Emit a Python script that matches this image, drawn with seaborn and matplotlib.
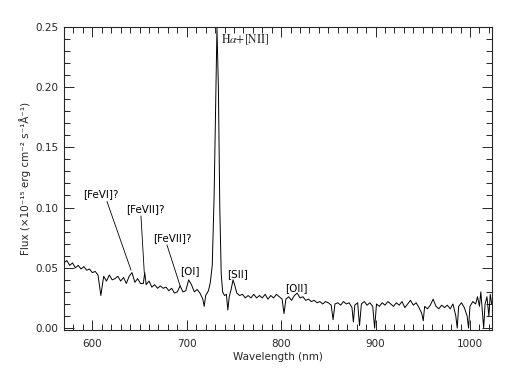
import numpy as np
import pandas as pd
import matplotlib
matplotlib.use("Agg")
import matplotlib.pyplot as plt
from matplotlib.ticker import MultipleLocator
import seaborn as sns

# wavelength (nm) and flux (1e-15 erg cm^-2 s^-1 A^-1)
wavelength = [
    570, 573, 576, 579, 582, 585, 588, 591, 594, 597, 600, 603, 606, 609, 612,
    615, 618, 621, 624, 627, 630, 633, 636, 639, 642, 645, 648, 651, 654, 655.5,
    657, 660, 663, 666, 669, 672, 675, 678, 681, 684, 687, 690, 693, 696, 699,
    702, 705, 708, 711, 714, 717, 718.5, 720, 723, 725, 727, 729, 730.5, 732,
    733.5, 735, 736.5, 738, 740, 742, 743.5, 745, 747, 749, 751, 753, 756, 759,
    762, 765, 768, 771, 774, 777, 780, 783, 786, 789, 792, 795, 798, 801, 803,
    805, 808, 811, 814, 817, 820, 823, 826, 829, 832, 835, 838, 841, 844, 847,
    850, 853, 855, 857, 860, 863, 866, 869, 872, 875, 876.5, 878, 881, 883, 885,
    888, 891, 894, 897, 899, 901, 904, 907, 910, 913, 916, 919, 922, 925, 928,
    931, 934, 937, 940, 943, 946, 949, 950.5, 952, 955, 958, 961, 964, 967, 970,
    973, 976, 979, 982, 985, 986.5, 988, 991, 994, 997, 998.5, 1000, 1003, 1006,
    1008, 1010, 1011.5, 1013, 1014.5, 1016, 1018, 1020, 1021.5, 1023,
]
flux = [
    0.054, 0.056, 0.052, 0.054, 0.050, 0.052, 0.049, 0.051, 0.048, 0.049, 0.046, 0.047, 0.044, 0.027, 0.043,
    0.039, 0.044, 0.040, 0.041, 0.043, 0.039, 0.042, 0.037, 0.043, 0.046, 0.038, 0.041, 0.037, 0.037, 0.046,
    0.036, 0.039, 0.034, 0.036, 0.033, 0.035, 0.033, 0.034, 0.031, 0.033, 0.029, 0.030, 0.035, 0.030, 0.031,
    0.040, 0.036, 0.030, 0.032, 0.029, 0.024, 0.018, 0.027, 0.031, 0.038, 0.052, 0.110, 0.180, 0.249,
    0.200, 0.100, 0.045, 0.030, 0.027, 0.028, 0.015, 0.026, 0.032, 0.040, 0.035, 0.029, 0.027, 0.028,
    0.025, 0.027, 0.025, 0.028, 0.025, 0.027, 0.025, 0.028, 0.024, 0.027, 0.025, 0.028, 0.026, 0.024, 0.012,
    0.024, 0.026, 0.023, 0.027, 0.029, 0.025, 0.026, 0.023, 0.024, 0.022, 0.023, 0.021, 0.022, 0.020, 0.022,
    0.021, 0.019, 0.007, 0.020, 0.021, 0.019, 0.022, 0.020, 0.021, 0.017, 0.005, 0.019, 0.021, 0.002, 0.020,
    0.022, 0.019, 0.021, 0.018, 0.000, 0.020, 0.018, 0.021, 0.019, 0.022, 0.020, 0.018, 0.021, 0.019, 0.022,
    0.017, 0.020, 0.023, 0.019, 0.021, 0.017, 0.012, 0.006, 0.018, 0.016, 0.019, 0.024, 0.018, 0.016, 0.019,
    0.017, 0.019, 0.016, 0.020, 0.010, 0.000, 0.018, 0.021, 0.017, 0.010, 0.000, 0.018, 0.022, 0.020,
    0.026, 0.018, 0.030, 0.015, 0.000, 0.020, 0.026, 0.010, 0.028, 0.020,
]

# line labels: text, text position, and where the pointer line runs (None = no pointer)
line_names = ["[FeVI]?", "[FeVII]?", "[FeVII]?", "[OI]", "[SII]", "[OII]"]
label_x = [609, 656, 685, 703.5, 754, 816]
label_y = [0.111, 0.099, 0.075, 0.047, 0.045, 0.033]
pointer_from = [(615.5, 0.105), (651.5, 0.093), (679, 0.069), None, None, None]
pointer_to = [(641, 0.048), (655, 0.046), (693, 0.035), None, None, None]

df = pd.DataFrame({"wavelength": wavelength, "flux": flux})

sns.set_style("ticks")
plt.rcParams["font.family"] = ["DejaVu Sans"]
plt.rcParams["mathtext.fontset"] = "stix"

fig = plt.figure(figsize=(5.18, 3.72), dpi=100)
ax = fig.add_axes([0.1236, 0.1142, 0.8256, 0.814])

sns.lineplot(data=df, x="wavelength", y="flux", color="black", linewidth=0.7,
             estimator=None, sort=False, ax=ax)

for name, tx, ty, p0, p1 in zip(line_names, label_x, label_y, pointer_from, pointer_to):
    ax.text(tx, ty, name, ha="center", va="center", fontsize=7.5, color="black")
    if p0 is not None:
        ax.plot([p0[0], p1[0]], [p0[1], p1[1]], color="black", linewidth=0.6)

ax.text(736, 0.239, r"H$\alpha$+[NII]", family="STIXGeneral", fontsize=8.5,
        ha="left", va="center")

ax.set_xlim(570, 1023)
ax.set_ylim(-0.0012, 0.25)
ax.xaxis.set_major_locator(MultipleLocator(100))
ax.xaxis.set_minor_locator(MultipleLocator(10))
ax.yaxis.set_major_locator(MultipleLocator(0.05))
ax.yaxis.set_minor_locator(MultipleLocator(0.01))
ax.yaxis.set_major_formatter(matplotlib.ticker.FormatStrFormatter("%.2f"))
ax.tick_params(which="both", direction="in", top=True, right=True,
               labelsize=7.5, width=0.7)
ax.tick_params(which="major", length=7, pad=4)
ax.tick_params(axis="x", which="major", pad=7)
ax.tick_params(which="minor", length=4)
for s in ax.spines.values():
    s.set_linewidth(0.8)

ax.set_xlabel("Wavelength (nm)", fontsize=7.5, labelpad=2)
ax.set_ylabel("Flux (×10⁻¹⁵ erg cm⁻² s⁻¹Å⁻¹)", fontsize=7.5, labelpad=3)

fig.savefig("out.png", dpi=100)
